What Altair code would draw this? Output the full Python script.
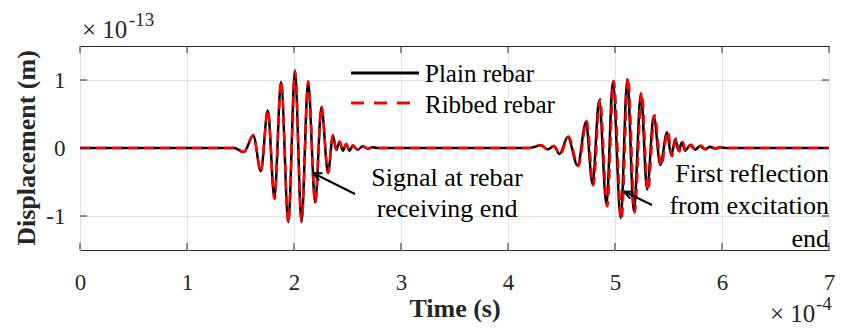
import altair as alt
import pandas as pd

# ---- data (time in 1e-4 s, displacement in 1e-13 m) ----
plain_t = [0, 1.44, 1.53, 1.62, 1.69, 1.755, 1.817, 1.879, 1.947, 2.009,
           2.07, 2.132, 2.198, 2.256, 2.318, 2.364, 2.395, 2.426, 2.457, 2.488,
           2.519, 2.55, 2.596, 2.642, 2.689, 2.735, 2.8,
           4.2, 4.31, 4.37, 4.43, 4.481, 4.559, 4.651, 4.728, 4.79, 4.852, 4.92,
           4.98, 5.053, 5.115, 5.176, 5.242, 5.30, 5.362, 5.424, 5.486, 5.526,
           5.563, 5.594, 5.625, 5.656, 5.702, 5.749, 5.795, 5.84, 5.887, 5.933,
           5.98, 6.05, 7.0]
plain_y = [0, 0, -0.06, 0.18, -0.34, 0.55, -0.73, 0.97, -1.09, 1.14,
           -1.09, 0.97, -0.80, 0.60, -0.36, 0.18, -0.03, 0.09, -0.04, 0.06,
           -0.04, 0.035, -0.025, 0.025, -0.01, 0.01, 0,
           0, 0.04, -0.02, 0.03, -0.09, 0.16, -0.26, 0.38, -0.53, 0.70, -0.83,
           0.97, -1.03, 1.01, -0.93, 0.80, -0.61, 0.47, -0.25, 0.23, -0.11,
           0.13, -0.04, 0.08, -0.04, 0.045, -0.025, 0.03, -0.02, 0.02, -0.01,
           0.01, 0, 0]

ribbed_t = [0, 1.44, 1.53, 1.62, 1.69, 1.756, 1.818, 1.880, 1.948, 2.010,
            2.071, 2.133, 2.199, 2.257, 2.319, 2.365, 2.396, 2.427, 2.458, 2.489,
            2.520, 2.551, 2.597, 2.643, 2.690, 2.736, 2.8,
            4.2, 4.31, 4.37, 4.43, 4.487, 4.566, 4.658, 4.736, 4.798, 4.860, 4.928,
            4.988, 5.061, 5.123, 5.184, 5.250, 5.308, 5.370, 5.432, 5.494, 5.534,
            5.571, 5.602, 5.633, 5.664, 5.710, 5.757, 5.803, 5.848, 5.895, 5.941,
            5.988, 6.06, 7.0]
ribbed_y = [0, 0, -0.06, 0.19, -0.35, 0.56, -0.75, 0.99, -1.10, 1.12,
            -1.08, 0.98, -0.81, 0.61, -0.37, 0.19, -0.03, 0.10, -0.04, 0.06,
            -0.04, 0.04, -0.03, 0.03, -0.01, 0.01, 0,
            0, 0.04, -0.02, 0.03, -0.10, 0.17, -0.27, 0.40, -0.55, 0.72, -0.86,
            0.99, -1.05, 1.03, -0.95, 0.81, -0.63, 0.48, -0.26, 0.24, -0.12,
            0.14, -0.05, 0.09, -0.05, 0.05, -0.03, 0.035, -0.02, 0.02, -0.01,
            0.01, 0, 0]

x_ticks = [0, 1, 2, 3, 4, 5, 6, 7]
y_ticks = [-1, 0, 1]
series_names = ["Plain rebar", "Ribbed rebar"]
series_colors = ["#000000", "#ff0000"]
note_receiving = ["Signal at rebar", "receiving end"]
note_reflection = ["First reflection", "from excitation", "end"]

W, H = 749, 204
FONT = "Liberation Serif"
XS = alt.Scale(domain=[0, 7], nice=False, zero=False)
YS = alt.Scale(domain=[-1.5, 1.5], nice=False, zero=False)

plain_df = pd.DataFrame({"t": plain_t, "y": plain_y})
ribbed_df = pd.DataFrame({"t": ribbed_t, "y": ribbed_y})

base_x = alt.X("t:Q", scale=XS,
               axis=alt.Axis(values=x_ticks, title=None, grid=True, domain=False,
                             ticks=False, tickSize=0, labelFont=FONT, labelFontSize=23,
                             labelColor="#262626", labelPadding=39,
                             labelExpr="'' + datum.value",
                             labelBaseline="alphabetic", labelFlush=False,
                             gridColor="#e3e3e3", gridWidth=1))
base_y = alt.Y("y:Q", scale=YS,
               axis=alt.Axis(values=y_ticks, title=None, grid=True, domain=False,
                             ticks=False, tickSize=0, labelFont=FONT, labelFontSize=23,
                             labelColor="#262626", labelPadding=15,
                             labelExpr="'' + datum.value",
                             gridColor="#e3e3e3", gridWidth=1))

plain_line = alt.Chart(plain_df).mark_line(
    color=series_colors[0], strokeWidth=2.5, interpolate="monotone", clip=True
).encode(x=base_x, y=base_y)

ribbed_line = alt.Chart(ribbed_df).mark_line(
    color=series_colors[1], strokeWidth=2.5, strokeDash=[10, 6],
    interpolate="monotone", clip=True
).encode(x=alt.X("t:Q", scale=XS), y=alt.Y("y:Q", scale=YS))

xt = pd.DataFrame({"t": x_ticks})
yt = pd.DataFrame({"y": y_ticks})
TK = "#262626"
ticks = [
    alt.Chart(xt).mark_rule(color=TK, strokeWidth=1).encode(
        x=alt.X("t:Q", scale=XS), y=alt.value(H), y2=alt.value(H - 7)),
    alt.Chart(xt).mark_rule(color=TK, strokeWidth=1).encode(
        x=alt.X("t:Q", scale=XS), y=alt.value(0), y2=alt.value(7)),
    alt.Chart(yt).mark_rule(color=TK, strokeWidth=1).encode(
        y=alt.Y("y:Q", scale=YS), x=alt.value(0), x2=alt.value(7)),
    alt.Chart(yt).mark_rule(color=TK, strokeWidth=1).encode(
        y=alt.Y("y:Q", scale=YS), x=alt.value(W), x2=alt.value(W - 7)),
]

one = pd.DataFrame({"k": [0]})


def txt(s, x, y, size, align="left", bold=False, angle=0, color="#000000"):
    return alt.Chart(one).mark_text(
        text=s, font=FONT, fontSize=size, align=align, baseline="alphabetic",
        fontWeight="bold" if bold else "normal", angle=angle, color=color
    ).encode(x=alt.value(x), y=alt.value(y))


legend = [
    alt.Chart(one).mark_rule(color=series_colors[0], strokeWidth=3).encode(
        x=alt.value(271), x2=alt.value(339), y=alt.value(27)),
    alt.Chart(one).mark_rule(color=series_colors[1], strokeWidth=3,
                             strokeDash=[13, 10]).encode(
        x=alt.value(271), x2=alt.value(339), y=alt.value(57)),
    txt(series_names[0], 345, 36, 25),
    txt(series_names[1], 345, 67, 25),
]

notes = [
    txt(note_receiving[0], 367, 140, 26, align="center"),
    txt(note_receiving[1], 367, 171, 26, align="center"),
    txt(note_reflection[0], W, 136, 26, align="right"),
    txt(note_reflection[1], W, 168, 26, align="right"),
    txt(note_reflection[2], W, 201, 26, align="right"),
]

ARROW = "M0,0 L-0.45,1 M0,0 L0.45,1"
arrows = [
    alt.Chart(one).mark_rule(color="#000000", strokeWidth=2).encode(
        x=alt.value(275), y=alt.value(148), x2=alt.value(233), y2=alt.value(127)),
    alt.Chart(one).mark_point(shape=ARROW, filled=False, color="#000000",
                              strokeWidth=2, size=300, angle=296, opacity=1).encode(
        x=alt.value(233), y=alt.value(127)),
    alt.Chart(one).mark_rule(color="#000000", strokeWidth=2).encode(
        x=alt.value(572), y=alt.value(159), x2=alt.value(544), y2=alt.value(145.5)),
    alt.Chart(one).mark_point(shape=ARROW, filled=False, color="#000000",
                              strokeWidth=2, size=300, angle=295, opacity=1).encode(
        x=alt.value(544), y=alt.value(145.5)),
]

labels = [
    txt("Time (s)", 375, 271, 26, align="center", bold=True, color="#262626"),
    txt("Displacement (m)", -45, 102, 26, align="center", bold=True, angle=270,
        color="#262626"),
    txt("\u00d7 10", 2, -8, 25, color="#262626"),
    txt("-13", 49, -20, 19, color="#262626"),
    txt("\u00d7 10", 690, 276, 25, color="#262626"),
    txt("-4", 736, 264, 19, color="#262626"),
]

chart = alt.layer(
    plain_line, ribbed_line, *ticks, *legend, *notes, *arrows, *labels
).properties(
    width=W, height=H,
    padding={"left": 72, "top": 38, "right": 6, "bottom": 77},
    autosize=alt.AutoSizeParams(type="none"),
).configure_view(stroke="#262626", strokeWidth=1)

chart.save("out.html", embed_options={"renderer": "svg", "actions": False})
